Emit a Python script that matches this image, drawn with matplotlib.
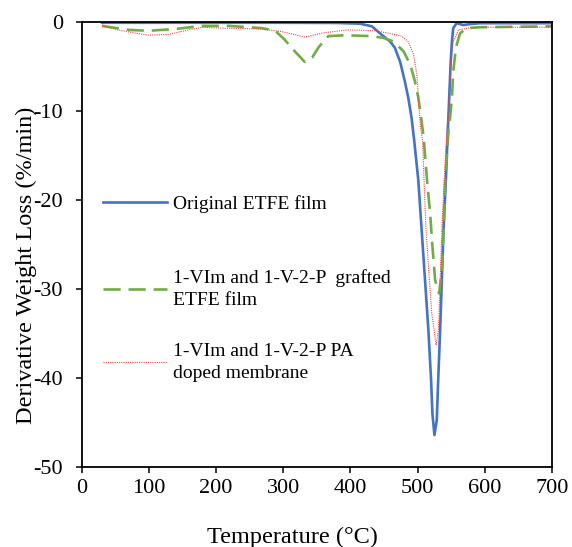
import matplotlib
matplotlib.use("Agg")
import matplotlib.pyplot as plt
from matplotlib.legend import Legend

# Original ETFE film
t_orig = [30, 100, 200, 300, 380, 414, 432, 444, 459, 466, 474, 481, 486, 491, 495,
          501, 506, 511, 516, 520, 522, 525, 528.5, 530.6, 533.5, 536, 538.5, 542,
          545, 547, 549, 551, 553, 558, 568, 578, 593, 700]
d_orig = [-0.1, -0.1, -0.1, -0.1, -0.12, -0.2, -0.5, -1.3, -2.2, -2.9, -4.5, -6.7,
          -8.5, -10.8, -13.4, -17.8, -23.4, -29.0, -34.6, -40.2, -44.0, -46.4, -44.7,
          -40.2, -34.6, -29.0, -23.4, -17.8, -12.1, -8.5, -4.8, -2.2, -0.7, -0.15,
          -0.35, -0.25, -0.15, -0.15]

# 1-VIm and 1-V-2-P grafted ETFE film
t_graft = [30, 70, 99, 139, 179, 219, 268, 288, 302, 317, 332, 343, 353, 367, 392,
           432, 449, 464, 479, 489, 496, 501, 506, 509, 514, 518.6, 522, 526, 532,
           536, 538.5, 541, 546, 548, 551, 553, 557, 563, 573, 593, 700]
d_graft = [-0.45, -0.9, -1.0, -0.8, -0.45, -0.45, -0.7, -1.0, -2.0, -3.3, -4.5, -4.0,
           -2.8, -1.6, -1.5, -1.6, -1.8, -2.2, -3.3, -4.8, -6.7, -8.5, -11.2, -13.0,
           -17.8, -21.5, -25.2, -29.0, -30.5, -27.9, -23.4, -17.8, -12.1, -11.0, -8.5,
           -5.6, -2.9, -1.3, -0.7, -0.6, -0.5]

# 1-VIm and 1-V-2-P PA doped membrane
t_doped = [30, 60, 99, 129, 159, 179, 209, 268, 298, 332, 362, 397, 437, 459, 476,
           486, 494, 499, 501, 504, 507.5, 509.5, 512.5, 517.5, 521, 527.5, 531,
           533.5, 536, 539.5, 543.5, 546, 549, 553, 561, 578, 603, 700]
d_doped = [-0.45, -1.0, -1.5, -1.4, -0.9, -0.6, -0.7, -0.8, -1.1, -1.7, -1.2, -0.9,
           -1.0, -1.3, -1.6, -2.2, -3.7, -6.0, -8.5, -11.6, -13.5, -17.8, -23.4, -29.0,
           -32.7, -36.3, -34.6, -29.0, -23.4, -17.8, -12.1, -10.4, -4.8, -2.2, -0.9,
           -0.65, -0.6, -0.6]

labels = ["Original ETFE film",
          "1-VIm and 1-V-2-P  grafted\nETFE film",
          "1-VIm and 1-V-2-P PA\ndoped membrane"]


def main():
    plt.rcParams["font.family"] = ["Liberation Serif", "DejaVu Serif"]
    plt.rcParams["axes.unicode_minus"] = False

    fig = plt.figure(figsize=(5.72, 5.47), dpi=100)
    ax = fig.add_axes([0.143, 0.146, 0.822, 0.814])

    l1, = ax.plot(t_orig, d_orig, color="#4472C4", lw=1.9, solid_joinstyle="round")
    l2, = ax.plot(t_graft, d_graft, color="#70AD47", lw=1.9, dashes=(6.5, 3))
    l3, = ax.plot(t_doped, d_doped, color="#FF4040", lw=0.8, linestyle=(0, (1, 1)))

    ax.set_xlim(0, 700)
    ax.set_ylim(-50, 0)
    ax.set_xticks(range(0, 701, 100))
    ax.set_yticks(range(-50, 1, 10))
    ax.tick_params(axis="both", direction="out", length=4.5, width=1.1, labelsize=16)
    ax.tick_params(axis="y", pad=9)
    ax.tick_params(axis="x", pad=4)
    for s in ax.spines.values():
        s.set_linewidth(1.3)

    ax.set_xlabel("Temperature (°C)", fontsize=17.5)
    ax.set_ylabel("Derivative Weight Loss (%/min)", fontsize=17.5)
    ax.xaxis.set_label_coords(0.449, -0.133)
    ax.yaxis.set_label_coords(-0.096, 0.454)

    # one legend block per series so each sits where the original puts it
    ys = [0.627, 0.472, 0.338]
    for h, lab, y in zip([l1, l2, l3], labels, ys):
        leg = Legend(ax, [h], [lab], loc="center left", bbox_to_anchor=(0.180, y),
                     bbox_transform=fig.transFigure, frameon=False, fontsize=14,
                     handlelength=3.3, handletextpad=0.3, borderpad=0,
                     borderaxespad=0)
        for t in leg.get_texts():
            t.set_linespacing(1.4)
        ax.add_artist(leg)

    fig.savefig("out.png", dpi=100)


if __name__ == "__main__":
    main()
